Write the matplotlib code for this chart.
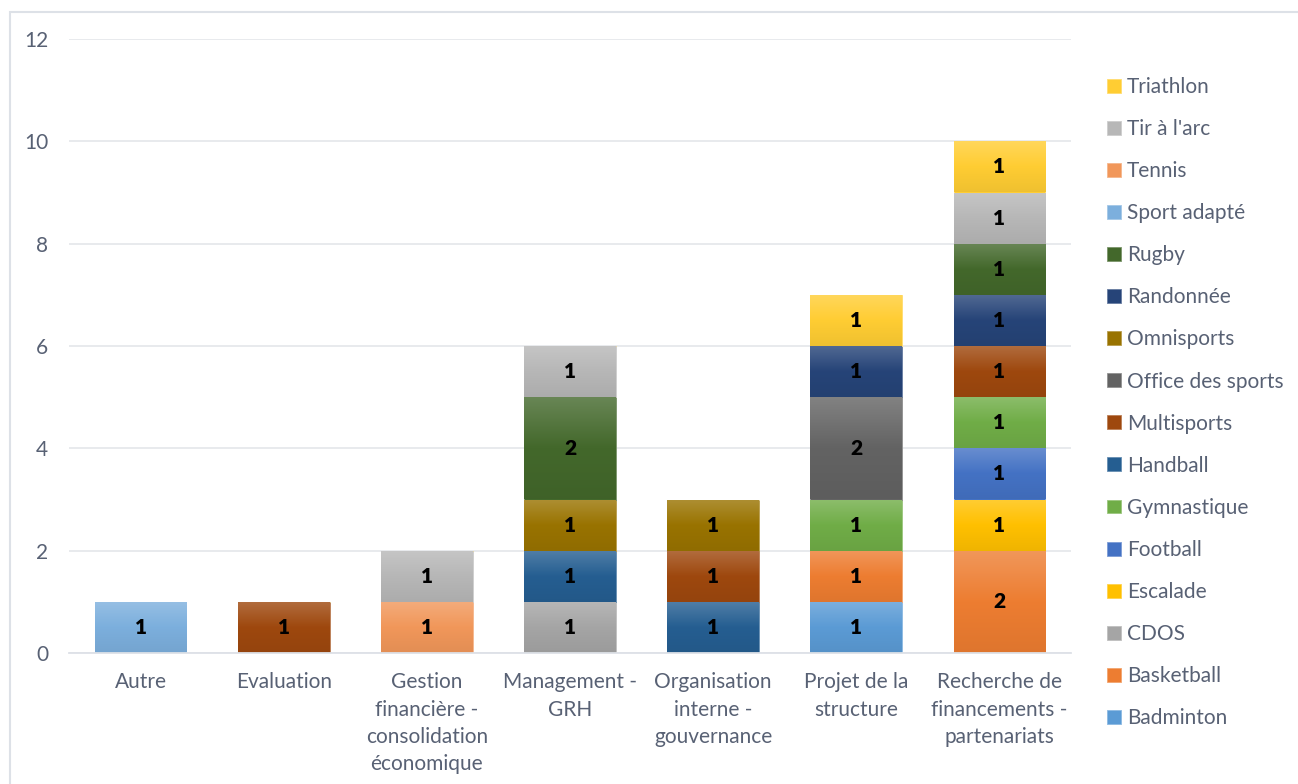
import numpy as np
import matplotlib
matplotlib.use('Agg')
import matplotlib.pyplot as plt
from matplotlib.colors import LinearSegmentedColormap, to_rgb
from matplotlib.patches import Rectangle

plt.rcParams['font.family'] = ['Lato', 'DejaVu Sans']

# catégories (axe x)
categories = ['Autre', 'Evaluation',
              'Gestion\nfinancière -\nconsolidation\néconomique',
              'Management -\nGRH',
              'Organisation\ninterne -\ngouvernance',
              'Projet de la\nstructure',
              'Recherche de\nfinancements -\npartenariats']

# séries, dans l'ordre d'empilement (bas -> haut)
badminton = [0, 0, 0, 0, 0, 1, 0]
basketball = [0, 0, 0, 0, 0, 1, 2]
cdos = [0, 0, 0, 1, 0, 0, 0]
escalade = [0, 0, 0, 0, 0, 0, 1]
football = [0, 0, 0, 0, 0, 0, 1]
gymnastique = [0, 0, 0, 0, 0, 1, 1]
handball = [0, 0, 0, 1, 1, 0, 0]
multisports = [0, 1, 0, 0, 1, 0, 1]
office_sports = [0, 0, 0, 0, 0, 2, 0]
omnisports = [0, 0, 0, 1, 1, 0, 0]
randonnee = [0, 0, 0, 0, 0, 1, 1]
rugby = [0, 0, 0, 2, 0, 0, 1]
sport_adapte = [1, 0, 0, 0, 0, 0, 0]
tennis = [0, 0, 1, 0, 0, 0, 0]
tir_arc = [0, 0, 1, 1, 0, 0, 1]
triathlon = [0, 0, 0, 0, 0, 1, 1]

series = [
    ('Badminton', badminton, '#5b9bd5'),
    ('Basketball', basketball, '#ed7d31'),
    ('CDOS', cdos, '#a5a5a5'),
    ('Escalade', escalade, '#ffc000'),
    ('Football', football, '#4472c4'),
    ('Gymnastique', gymnastique, '#70ad47'),
    ('Handball', handball, '#255e91'),
    ('Multisports', multisports, '#9e480e'),
    ('Office des sports', office_sports, '#636363'),
    ('Omnisports', omnisports, '#997300'),
    ('Randonnée', randonnee, '#264478'),
    ('Rugby', rugby, '#43682b'),
    ('Sport adapté', sport_adapte, '#7cafdd'),
    ('Tennis', tennis, '#f1975a'),
    ("Tir à l'arc", tir_arc, '#b7b7b7'),
    ('Triathlon', triathlon, '#ffcd33'),
]

text_col = '#586174'


def mix(c, other, t):
    c = np.array(to_rgb(c))
    o = np.array(to_rgb(other))
    return tuple(c * (1 - t) + o * t)


fig = plt.figure(figsize=(12.98, 7.84), dpi=100)
ax = fig.add_axes([69 / 1298, 1 - 653 / 784, (1071 - 69) / 1298, (653 - 39) / 784])

# cadre du graphique
fig.patches.append(Rectangle((10 / 1298, -0.1), 1.2, 1 - 12 / 784 + 0.1,
                             transform=fig.transFigure, fill=False,
                             edgecolor='#dde1e7', linewidth=1.5))

x = np.arange(len(categories))
bottom = np.zeros(len(categories))
handles = []
grad = np.linspace(0, 1, 64).reshape(-1, 1)

for name, vals, col in series:
    vals = np.array(vals, dtype=float)
    bars = ax.bar(x, vals, 0.64, bottom=bottom, color=col, label=name,
                  edgecolor=mix(col, 'white', 0.3), linewidth=0.6, zorder=2)
    cmap = LinearSegmentedColormap.from_list(name, [mix(col, 'black', 0.06), col, mix(col, 'white', 0.2)])
    for b in bars:
        if b.get_height() == 0:
            continue
        x0, y0 = b.get_x(), b.get_y()
        im = ax.imshow(grad, cmap=cmap, origin='lower', aspect='auto',
                       extent=[x0, x0 + b.get_width(), y0, y0 + b.get_height()],
                       zorder=2.1, interpolation='bilinear')
        im.set_clip_path(b)
    ax.bar_label(bars, labels=[str(int(v)) if v else '' for v in vals],
                 label_type='center', fontweight='heavy', fontsize=15,
                 color='black', zorder=4)
    handles.append(bars)
    bottom += vals

ax.set_xlim(-0.5, len(categories) - 0.5)
ax.set_ylim(0, 12)
ax.set_yticks(np.arange(0, 13, 2))
ax.set_xticks(x)
ax.set_xticklabels(categories, linespacing=1.45)
ax.tick_params(axis='x', length=0, pad=14, labelsize=15, labelcolor=text_col)
ax.tick_params(axis='y', length=0, pad=15, labelsize=15, labelcolor=text_col)
ax.grid(axis='y', color='#e6e8ec', linewidth=1.3, zorder=0)
ax.set_axisbelow(True)
for s in ['top', 'right', 'left']:
    ax.spines[s].set_visible(False)
ax.spines['bottom'].set_color('#dde1e7')
ax.spines['bottom'].set_linewidth(1.3)

leg = fig.legend(handles[::-1], [s[0] for s in series][::-1],
                 loc='upper left', bbox_to_anchor=(1107 / 1298, 1 - 77 / 784),
                 frameon=False, fontsize=15, labelspacing=1.06,
                 handlelength=0.65, handleheight=0.65, handletextpad=0.3,
                 borderaxespad=0, borderpad=0)
for t in leg.get_texts():
    t.set_color(text_col)

fig.savefig('out.png', dpi=100, facecolor='white')
